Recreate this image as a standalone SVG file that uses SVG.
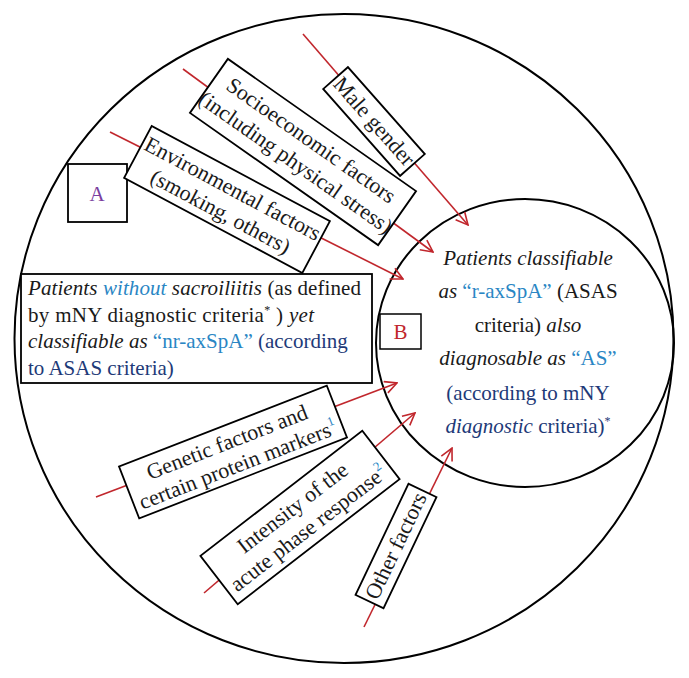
<svg xmlns="http://www.w3.org/2000/svg" width="689" height="678" viewBox="0 0 689 678">
<style>
.circ{fill:none;stroke:#000;stroke-width:2}
.box{fill:#fff;stroke:#000;stroke-width:1.8}
.t{font-family:"Liberation Serif","Times New Roman",serif;font-size:21px;fill:#1a1a1a}
.bt{font-size:22px}
.c{text-anchor:middle}
.i{font-style:italic}
.lb{fill:#2a86c4}
.nv{fill:#1e3a78}
.sup{font-size:12px}
.con{fill:none;stroke:#c1272d;stroke-width:1.6}
</style>
<defs>
<marker id="arr" viewBox="0 0 14 14" refX="13" refY="7" markerWidth="14" markerHeight="14" markerUnits="userSpaceOnUse" orient="auto">
<path d="M1,1 L13,7 L1,13" fill="none" stroke="#c1272d" stroke-width="1.6"/>
</marker>
</defs>
<rect width="689" height="678" fill="#fff"/>
<g id="outer-circle"><ellipse class="circ" cx="344" cy="338.5" rx="329.5" ry="324.5"/></g>
<g id="inner-circle"><ellipse class="circ" cx="525" cy="343" rx="149" ry="144"/></g>
<g id="connectors">
<line class="con" x1="303" y1="34" x2="468" y2="225" marker-end="url(#arr)"/>
<line class="con" x1="183" y1="69" x2="433" y2="252" marker-end="url(#arr)"/>
<line class="con" x1="110" y1="132" x2="403" y2="279" marker-end="url(#arr)"/>
<line class="con" x1="96" y1="497" x2="397" y2="383" marker-end="url(#arr)"/>
<line class="con" x1="204" y1="593" x2="415" y2="413" marker-end="url(#arr)"/>
<line class="con" x1="364" y1="627" x2="452" y2="448" marker-end="url(#arr)"/>
</g>
<g id="label-A">
<rect class="box" x="68" y="164" width="59" height="58"/>
<text class="t c" x="97" y="201" style="fill:#7b3fa0">A</text>
</g>
<g id="label-B">
<rect class="box" x="380" y="314" width="41" height="35" style="stroke-width:1.5"/>
<text class="t c" x="400.5" y="339" style="fill:#c1272d">B</text>
</g>
<g id="node-nr-axSpA">
<rect class="box" x="21" y="274" width="351" height="109"/>
<text class="t" x="28" y="295" textLength="333" lengthAdjust="spacing"><tspan class="i">Patients </tspan><tspan class="i lb">without</tspan><tspan class="i"> sacroiliitis</tspan> (as defined</text>
<text class="t" x="28" y="322" textLength="286" lengthAdjust="spacing">by mNY diagnostic criteria<tspan class="sup" dy="-8">*</tspan><tspan dy="8"> ) </tspan><tspan class="i">yet</tspan></text>
<text class="t" x="28" y="348"><tspan class="i">classifiable as </tspan><tspan class="lb">“nr-axSpA”</tspan><tspan class="nv"> (according</tspan></text>
<text class="t nv" x="28" y="375">to ASAS criteria)</text>
</g>
<g id="node-r-axSpA">
<text class="t c i" x="528" y="265">Patients classifiable</text>
<text class="t c" x="528" y="298"><tspan class="i">as </tspan><tspan class="lb">“r-axSpA”</tspan> (ASAS</text>
<text class="t c" x="528" y="332">criteria) <tspan class="i">also</tspan></text>
<text class="t c" x="528" y="365"><tspan class="i">diagnosable as </tspan><tspan class="lb">“AS”</tspan></text>
<text class="t c nv" x="528" y="400">(according to mNY</text>
<text class="t c nv" x="528" y="433"><tspan class="i">diagnostic</tspan> criteria)<tspan class="sup" dy="-8">*</tspan></text>
</g>
<g id="node-male" transform="translate(374,121.5) rotate(48.5)">
<rect class="box" x="-58" y="-16.5" width="116" height="33"/>
<text class="t bt c" x="0" y="7">Male gender</text>
</g>
<g id="node-socio" transform="translate(303,152) rotate(35.1)">
<rect class="box" x="-115" y="-33" width="230" height="66"/>
<text class="t bt c" x="0" y="-7">Socioeconomic factors</text>
<text class="t bt c" x="0" y="20">(including physical stress)</text>
</g>
<g id="node-env" transform="translate(227,199.5) rotate(28.1)">
<rect class="box" x="-101" y="-29.3" width="202" height="58.6"/>
<text class="t bt c" x="0" y="-5">Environmental factors</text>
<text class="t bt c" x="0" y="21">(smoking, others)</text>
</g>
<g id="node-genetic" transform="translate(233,452) rotate(-21.3)">
<rect class="box" x="-111.5" y="-27.8" width="223" height="55.6"/>
<text class="t bt c" x="-2" y="-4">Genetic factors and</text>
<text class="t bt c" x="0" y="21">certain protein markers<tspan class="sup lb" style="font-size:13px" dy="-10">1</tspan></text>
</g>
<g id="node-intensity" transform="translate(300,517.5) rotate(-37.7)">
<rect class="box" x="-102.3" y="-30.5" width="204.6" height="61"/>
<text class="t bt c" x="0" y="-5">Intensity of the</text>
<text class="t bt c" x="0" y="21">acute phase response<tspan class="sup lb" style="font-size:13px" dy="-10">2</tspan></text>
</g>
<g id="node-other" transform="translate(396,546) rotate(-64.5)">
<rect class="box" x="-61.5" y="-15.5" width="123" height="31"/>
<text class="t bt c" x="0" y="7">Other factors</text>
</g>
</svg>
